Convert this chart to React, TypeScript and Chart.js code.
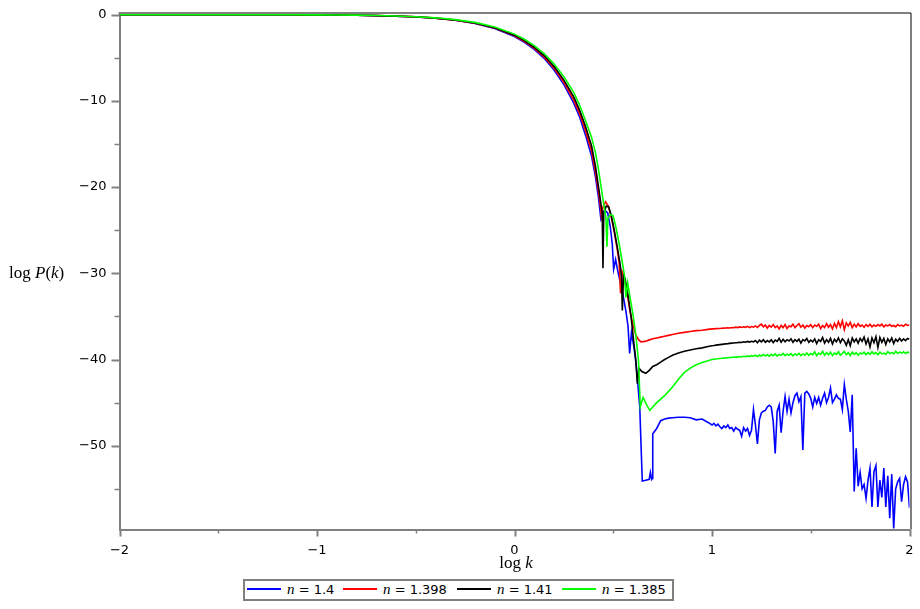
import React, { useEffect, useRef } from 'react';
import { Chart, registerables } from 'chart.js';

Chart.register(...registerables);

// ---------- axis ticks ----------
const yTickValues = [0, -5, -10, -15, -20, -25, -30, -35, -40, -45, -50, -55];
const yMajorTicks = [0, -10, -20, -30, -40, -50];
const xTickValues = [-2, -1.5, -1, -0.5, 0, 0.5, 1, 1.5, 2];
const xMajorTicks = [-2, -1, 0, 1, 2];

// ---------- series labels / colours ----------
const nValues = ['1.4', '1.398', '1.41', '1.385'];
const seriesColors = ['#0000ff', '#ff0000', '#000000', '#00ff00'];

// ---------- shared smooth part (log k) ----------
const logKHead = [-2, -1.8, -1.6, -1.4, -1.2, -1.0, -0.9, -0.8, -0.7, -0.6, -0.5, -0.4, -0.3, -0.2, -0.1, 0, 0.05, 0.1, 0.15, 0.2, 0.25, 0.3, 0.33, 0.36, 0.39];
const blueHead = [0, 0, 0, -0.01, -0.01, -0.02, -0.04, -0.06, -0.1, -0.17, -0.26, -0.41, -0.65, -1.01, -1.6, -2.53, -3.2, -4.03, -5.06, -6.41, -8.11, -10.26, -11.9, -14.0, -16.4];
const redHead = [0, 0, 0, -0.01, -0.01, -0.02, -0.04, -0.06, -0.1, -0.16, -0.25, -0.4, -0.63, -0.98, -1.55, -2.45, -3.1, -3.9, -4.9, -6.2, -7.85, -9.9, -11.5, -13.5, -15.8];
const blackHead = [0, 0, 0, -0.01, -0.01, -0.02, -0.04, -0.06, -0.1, -0.16, -0.24, -0.39, -0.61, -0.95, -1.5, -2.37, -3.0, -3.77, -4.74, -5.99, -7.59, -9.54, -11.1, -13.0, -15.2];
const greenHead = [0, 0, 0, -0.01, -0.01, -0.02, -0.03, -0.05, -0.09, -0.15, -0.23, -0.36, -0.57, -0.89, -1.42, -2.25, -2.84, -3.58, -4.5, -5.7, -7.2, -9.0, -10.5, -12.3, -14.2];

// ---------- transition (own log k per series) ----------
const kBlueMid = [0.41, 0.425, 0.437, 0.445, 0.458, 0.472, 0.485, 0.495, 0.502, 0.512, 0.52, 0.535, 0.55, 0.565, 0.575, 0.583, 0.592, 0.605, 0.617, 0.634, 0.647, 0.665, 0.682, 0.688, 0.694, 0.697];
const pBlueMid = [-18.8, -21.2, -23.6, -22.9, -22.7, -23.0, -24.6, -26.6, -29.5, -28.4, -29.4, -31.0, -32.6, -34.5, -36.2, -39.3, -36.9, -38.6, -40.8, -45.4, -54.1, -54.0, -53.9, -53.1, -53.9, -53.8];
const kRedMid = [0.41, 0.425, 0.435, 0.44, 0.448, 0.461, 0.475, 0.49, 0.505, 0.52, 0.53, 0.537, 0.545, 0.555, 0.57, 0.585, 0.6, 0.615, 0.628, 0.64, 0.66, 0.68];
const pRedMid = [-18.3, -20.5, -22.2, -23.4, -22.3, -21.7, -22.2, -23.5, -25.2, -27.2, -28.8, -32.3, -29.8, -30.4, -32.3, -34.4, -36.0, -37.2, -37.7, -37.95, -37.9, -37.75];
const kBlackMid = [0.41, 0.425, 0.438, 0.444, 0.448, 0.452, 0.465, 0.477, 0.49, 0.505, 0.52, 0.535, 0.542, 0.546, 0.552, 0.56, 0.575, 0.59, 0.605, 0.614, 0.622, 0.63, 0.645, 0.665, 0.685];
const pBlackMid = [-17.6, -19.9, -22.0, -23.0, -29.4, -23.0, -22.2, -22.3, -23.3, -25.0, -26.9, -29.0, -30.5, -34.3, -30.3, -30.6, -32.6, -35.0, -38.2, -40.0, -42.8, -41.0, -41.4, -41.6, -41.2];
const kGreenMid = [0.41, 0.425, 0.44, 0.455, 0.463, 0.468, 0.473, 0.485, 0.499, 0.515, 0.53, 0.545, 0.557, 0.564, 0.573, 0.585, 0.6, 0.615, 0.628, 0.637, 0.651, 0.668, 0.685];
const pGreenMid = [-16.0, -17.9, -20.2, -22.4, -23.6, -26.9, -23.6, -23.2, -23.3, -24.8, -26.6, -28.6, -30.3, -32.8, -31.1, -32.8, -34.8, -37.3, -40.2, -45.5, -44.4, -45.2, -45.9];

// ---------- floor (shared log k) ----------
const logKFloor = [0.70, 0.72, 0.74, 0.76, 0.78, 0.80, 0.83, 0.86, 0.89, 0.92, 0.95, 0.98];
const blueFloor = [-48.6, -48.0, -47.1, -46.9, -46.8, -46.75, -46.7, -46.7, -46.75, -47.0, -46.9, -47.3];
const redFloor = [-37.6, -37.5, -37.4, -37.3, -37.2, -37.1, -36.95, -36.85, -36.75, -36.65, -36.6, -36.5];
const blackFloor = [-40.8, -40.6, -40.3, -40.0, -39.75, -39.5, -39.25, -39.05, -38.9, -38.75, -38.65, -38.5];
const greenFloor = [-45.5, -45.0, -44.6, -44.2, -43.7, -43.2, -42.3, -41.5, -41.0, -40.6, -40.35, -40.15];

// ---------- noisy tail (shared log k) ----------
const logKNoise = [
  1.00, 1.01, 1.02, 1.03, 1.04, 1.05, 1.06, 1.07, 1.08, 1.09,
  1.10, 1.11, 1.12, 1.13, 1.14, 1.15, 1.16, 1.17, 1.18, 1.19,
  1.20, 1.21, 1.22, 1.23, 1.24, 1.25, 1.26, 1.27, 1.28, 1.29,
  1.30, 1.31, 1.32, 1.33, 1.34, 1.35, 1.36, 1.37, 1.38, 1.39,
  1.40, 1.41, 1.42, 1.43, 1.44, 1.45, 1.46, 1.47, 1.48, 1.49,
  1.50, 1.51, 1.52, 1.53, 1.54, 1.55, 1.56, 1.57, 1.58, 1.59,
  1.60, 1.61, 1.62, 1.63, 1.64, 1.65, 1.66, 1.67, 1.68, 1.69,
  1.70, 1.71, 1.72, 1.73, 1.74, 1.75, 1.76, 1.77, 1.78, 1.79,
  1.80, 1.81, 1.82, 1.83, 1.84, 1.85, 1.86, 1.87, 1.88, 1.89,
  1.90, 1.91, 1.92, 1.93, 1.94, 1.95, 1.96, 1.97, 1.98, 1.99,
  2.00,
];
const blueNoise = [
  -47.6, -47.4, -47.7, -47.5, -47.8, -48.0, -47.7, -47.9, -47.6, -48.0,
  -47.9, -48.3, -47.9, -48.1, -48.2, -48.9, -47.9, -48.3, -48.0, -48.8,
  -48.2, -45.8, -47.6, -49.8, -47.0, -46.2, -46.0, -45.9, -45.5, -45.3,
  -45.5, -47.2, -50.9, -46.0, -45.3, -48.5, -46.0, -44.3, -46.0, -44.6,
  -46.2, -45.0, -44.2, -43.9, -44.9, -44.3, -50.5, -43.9, -43.7, -44.0,
  -44.5, -45.5, -44.4, -45.1, -44.4, -45.3, -44.5, -43.9, -45.0, -44.4,
  -43.3, -45.0, -44.6, -44.1, -44.5, -44.6, -45.8, -42.9, -44.6, -46.0,
  -48.4, -44.1, -55.3, -50.3, -54.7, -53.1, -55.0, -54.5, -56.1, -54.0,
  -52.6, -57.1, -53.0, -52.3, -57.1, -54.0, -56.0, -52.6, -57.1, -53.5,
  -58.4, -53.3, -59.6, -55.0, -54.2, -53.8, -56.5, -54.5, -53.6, -54.2,
  -57.2,
];
const redNoise = [
  -36.45, -36.44, -36.42, -36.40, -36.40, -36.38, -36.36, -36.35, -36.33, -36.34,
  -36.28, -36.32, -36.25, -36.30, -36.22, -36.28, -36.20, -36.26, -36.15, -36.30,
  -36.18, -36.25, -36.10, -36.28, -36.05, -35.90, -36.20, -36.00, -36.35, -36.05,
  -36.25, -35.95, -36.30, -36.10, -36.45, -36.05, -36.30, -35.95, -36.40, -36.10,
  -36.20, -35.90, -36.30, -36.05, -35.85, -36.25, -36.00, -36.35, -36.05, -36.20,
  -35.95, -36.30, -36.00, -36.15, -35.90, -36.40, -36.05, -36.30, -35.85, -36.25,
  -35.95, -36.45, -35.80, -36.30, -35.60, -36.20, -35.50, -36.55, -35.75, -36.10,
  -35.70, -36.30, -35.90, -36.20, -35.85, -36.15, -36.00, -36.25, -35.95, -36.15,
  -35.90, -36.20, -36.00, -36.15, -35.95, -36.10, -35.90, -36.20, -36.00, -36.10,
  -35.95, -36.15, -36.05, -36.20, -35.95, -36.10, -36.00, -36.15, -35.90, -36.05,
  -36.00,
];
const blackNoise = [
  -38.40, -38.37, -38.33, -38.30, -38.27, -38.24, -38.21, -38.18, -38.16, -38.13,
  -38.10, -38.08, -38.05, -38.04, -38.00, -38.02, -37.95, -38.00, -37.90, -37.98,
  -37.88, -37.95, -37.80, -38.05, -37.75, -37.95, -37.70, -38.00, -37.80, -37.95,
  -37.70, -38.05, -37.75, -37.90, -37.55, -38.00, -37.65, -37.95, -37.70, -37.85,
  -37.60, -38.00, -37.70, -37.90, -37.65, -38.10, -37.70, -37.85, -37.55, -38.00,
  -37.75, -37.95, -37.60, -38.15, -37.70, -37.90, -37.45, -38.10, -37.70, -38.00,
  -37.55, -38.20, -37.65, -37.95, -37.50, -38.05, -37.60, -37.85, -38.35, -37.70,
  -38.40, -37.50, -37.95, -37.60, -38.10, -37.55, -37.90, -37.40, -38.20, -37.60,
  -38.55, -37.50, -38.05, -37.35, -38.60, -37.45, -38.00, -37.55, -38.25, -37.60,
  -37.95, -37.50, -38.15, -37.65, -37.90, -37.55, -37.85, -37.60, -37.80, -37.55,
  -37.65,
];
const greenNoise = [
  -40.00, -39.97, -39.94, -39.92, -39.89, -39.86, -39.84, -39.82, -39.79, -39.77,
  -39.75, -39.73, -39.71, -39.72, -39.66, -39.70, -39.62, -39.68, -39.58, -39.66,
  -39.55, -39.62, -39.50, -39.65, -39.48, -39.60, -39.42, -39.58, -39.45, -39.62,
  -39.40, -39.55, -39.35, -39.60, -39.40, -39.52, -39.30, -39.55, -39.38, -39.50,
  -39.32, -39.58, -39.36, -39.48, -39.28, -39.55, -39.35, -39.50, -39.25, -39.52,
  -39.30, -39.45, -39.10, -39.55, -39.25, -39.40, -39.05, -39.50, -39.20, -39.45,
  -39.15, -39.55, -39.25, -39.40, -39.10, -39.50, -39.30, -39.05, -39.45, -39.20,
  -39.55, -39.15, -39.40, -39.20, -39.50, -39.25, -39.35, -39.15, -39.45, -39.20,
  -39.40, -39.10, -39.35, -39.20, -39.45, -39.15, -39.35, -39.25, -39.40, -39.10,
  -39.30, -39.20, -39.35, -39.05, -39.30, -39.15, -39.25, -39.10, -39.30, -39.15,
  -39.20,
];

const MINUS = '\u2212';
const fmt = (v: number) => (v < 0 ? MINUS + String(Math.abs(v)) : String(v));

function buildPoints(head: number[], midK: number[], midP: number[], floor: number[], noise: number[]) {
  return [
    ...logKHead.map((x, i) => ({ x, y: head[i] })),
    ...midK.map((x, i) => ({ x, y: midP[i] })),
    ...logKFloor.map((x, i) => ({ x, y: floor[i] })),
    ...logKNoise.map((x, i) => ({ x, y: noise[i] })),
  ];
}

const AXIS_GRAY = '#808080';

const framePlugin = {
  id: 'frameTicks',
  afterDraw(chart: any) {
    const { ctx, chartArea: a, scales } = chart;
    const xs = scales.x;
    const ys = scales.y;
    ctx.save();
    // top border
    ctx.strokeStyle = AXIS_GRAY;
    ctx.lineWidth = 2;
    ctx.beginPath();
    ctx.moveTo(a.left - 1, a.top);
    ctx.lineTo(a.right + 1.5, a.top);
    ctx.stroke();
    // right border
    ctx.strokeStyle = '#000';
    ctx.lineWidth = 1;
    ctx.beginPath();
    ctx.moveTo(a.right + 1.5, a.top);
    ctx.lineTo(a.right + 1.5, a.bottom);
    ctx.stroke();
    // y tick marks
    ctx.strokeStyle = AXIS_GRAY;
    yTickValues.forEach((v) => {
      const p = Math.round(ys.getPixelForValue(v)) + 0.5;
      const major = yMajorTicks.includes(v);
      ctx.lineWidth = major ? 2 : 1.5;
      ctx.beginPath();
      ctx.moveTo(a.left - (major ? 8 : 5), p);
      ctx.lineTo(a.left, p);
      ctx.stroke();
    });
    // x tick marks
    xTickValues.forEach((v) => {
      const p = Math.round(xs.getPixelForValue(v)) + 0.5;
      const major = xMajorTicks.includes(v);
      ctx.lineWidth = major ? 2 : 1.5;
      ctx.beginPath();
      ctx.moveTo(p, a.bottom);
      ctx.lineTo(p, a.bottom + (major ? 7 : 4));
      ctx.stroke();
    });
    ctx.restore();
  },
};

const tickFont = { family: 'DejaVu Sans', size: 13 };

export default function App() {
  const canvasRef = useRef<HTMLCanvasElement | null>(null);

  useEffect(() => {
    const canvas = canvasRef.current;
    if (!canvas) return;
    const datasets = [
      { label: 'n = ' + nValues[0], data: buildPoints(blueHead, kBlueMid, pBlueMid, blueFloor, blueNoise), borderColor: seriesColors[0], order: 4 },
      { label: 'n = ' + nValues[1], data: buildPoints(redHead, kRedMid, pRedMid, redFloor, redNoise), borderColor: seriesColors[1], order: 3 },
      { label: 'n = ' + nValues[2], data: buildPoints(blackHead, kBlackMid, pBlackMid, blackFloor, blackNoise), borderColor: seriesColors[2], order: 2 },
      { label: 'n = ' + nValues[3], data: buildPoints(greenHead, kGreenMid, pGreenMid, greenFloor, greenNoise), borderColor: seriesColors[3], order: 1 },
    ].map((d) => ({ ...d, borderWidth: 1.6, pointRadius: 0, tension: 0, fill: false }));

    const chart = new Chart(canvas, {
      type: 'line',
      data: { datasets } as any,
      options: {
        animation: false,
        responsive: false,
        devicePixelRatio: 1,
        layout: { padding: { left: 0, top: 13, right: 10.5, bottom: 39.5 } },
        plugins: { legend: { display: false }, tooltip: { enabled: false } },
        scales: {
          x: {
            type: 'linear',
            min: -2,
            max: 2,
            afterBuildTicks: (s: any) => {
              s.ticks = xTickValues.map((v) => ({ value: v }));
            },
            afterFit: (s: any) => {
              s.height = 40;
            },
            grid: { display: true, drawOnChartArea: false, drawTicks: true, tickLength: 7, color: 'rgba(0,0,0,0)' },
            border: { display: true, color: AXIS_GRAY, width: 2 },
            ticks: {
              autoSkip: false,
              maxRotation: 0,
              minRotation: 0,
              padding: 6,
              color: '#000',
              font: tickFont,
              callback: (v: any) => (xMajorTicks.includes(Number(v)) ? fmt(Number(v)) : ''),
            },
          },
          y: {
            type: 'linear',
            min: -59.72,
            max: 0.2,
            afterBuildTicks: (s: any) => {
              s.ticks = yTickValues.map((v) => ({ value: v }));
            },
            afterFit: (s: any) => {
              s.width = 119.5;
            },
            grid: { display: true, drawOnChartArea: false, drawTicks: true, tickLength: 8, color: 'rgba(0,0,0,0)' },
            border: { display: true, color: AXIS_GRAY, width: 2 },
            ticks: {
              autoSkip: false,
              padding: 5,
              color: '#000',
              font: tickFont,
              callback: (v: any) => (yMajorTicks.includes(Number(v)) ? fmt(Number(v)) : ''),
            },
          },
        },
      } as any,
      plugins: [framePlugin],
    });
    return () => chart.destroy();
  }, []);

  const serif = "'Liberation Serif', 'DejaVu Serif', serif";
  const sans = "'DejaVu Sans', sans-serif";
  const lineLefts = [247, 343, 457, 562];
  const textLefts = [287, 383, 497, 602];

  return (
    <div style={{ position: 'absolute', left: 0, top: 0, width: 920, height: 609, background: '#fff', overflow: 'hidden' }}>
      <canvas ref={canvasRef} width={920} height={609} style={{ position: 'absolute', left: 0, top: 0, width: 920, height: 609 }} />
      <div style={{ position: 'absolute', left: 9, top: 264, fontFamily: serif, fontSize: 17, lineHeight: '17px', whiteSpace: 'nowrap', color: '#000' }}>
        log <i>P</i>(<i>k</i>)
      </div>
      <div style={{ position: 'absolute', left: 466, width: 100, top: 554, textAlign: 'center', fontFamily: serif, fontSize: 17, lineHeight: '17px', whiteSpace: 'nowrap', color: '#000' }}>
        log <i>k</i>
      </div>
      <div style={{ position: 'absolute', left: 243, top: 579, width: 431, height: 22, boxSizing: 'border-box', border: '2px solid ' + AXIS_GRAY, background: '#fff' }} />
      {nValues.map((n, i) => (
        <React.Fragment key={n}>
          <div style={{ position: 'absolute', left: lineLefts[i], top: 588, width: 34, height: 2, background: seriesColors[i] }} />
          <div style={{ position: 'absolute', left: textLefts[i], top: 581, fontFamily: sans, fontSize: 13, lineHeight: '16px', whiteSpace: 'nowrap', color: '#000' }}>
            <i style={{ fontFamily: serif, fontSize: 15 }}>n</i> = {n}
          </div>
        </React.Fragment>
      ))}
    </div>
  );
}
